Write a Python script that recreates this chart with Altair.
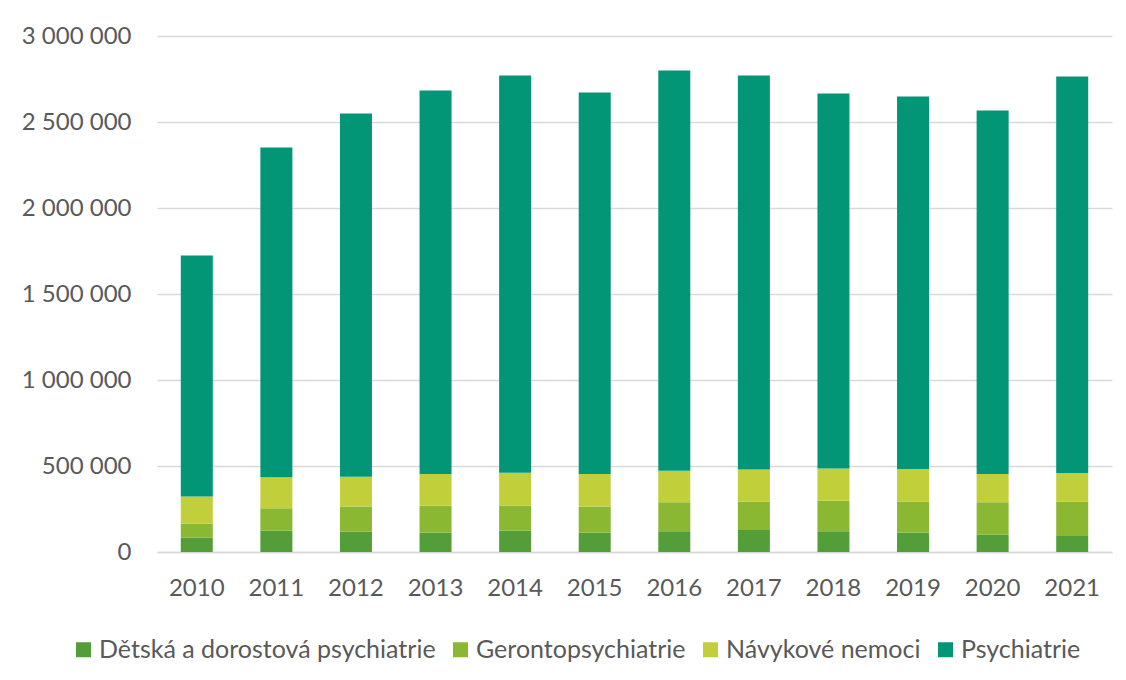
import altair as alt
import pandas as pd

years = [str(y) for y in range(2010, 2022)]
series = ["Dětská a dorostová psychiatrie", "Gerontopsychiatrie", "Návykové nemoci", "Psychiatrie"]
colors = ["#549E39", "#8AB833", "#C0CF3A", "#029676"]

detska = [85000, 124000, 118000, 114000, 124000, 114000, 120000, 128000, 120000, 114000, 102000, 97000]
geronto = [80000, 130000, 146000, 155000, 147000, 151000, 169000, 166000, 178000, 180000, 187000, 197000]
navykove = [157000, 180000, 174000, 185000, 190000, 189000, 184000, 185000, 187000, 189000, 165000, 166000]
psychiatrie = [1402000, 1918000, 2112000, 2229000, 2310000, 2218000, 2327000, 2292000, 2181000, 2165000, 2113000, 2305000]

rows = []
for i, y in enumerate(years):
    for k, vals in enumerate([detska, geronto, navykove, psychiatrie]):
        rows.append({"rok": y, "skupina": series[k], "idx": k, "hodnota": vals[i]})
df = pd.DataFrame(rows)

FONT = "Lato"
TXT = "#595959"

chart = alt.Chart(df).mark_bar(size=32).encode(
    x=alt.X("rok:N", title=None, scale=alt.Scale(paddingInner=0.6, paddingOuter=0.3),
            axis=alt.Axis(labelAngle=0, ticks=False, domain=True, domainColor="#D9D9D9",
                          domainWidth=1.5, labelPadding=24, labelFontSize=24,
                          labelColor=TXT, labelFont=FONT, grid=False)),
    y=alt.Y("hodnota:Q", title=None, stack="zero",
            scale=alt.Scale(domain=[0, 3000000], nice=False),
            axis=alt.Axis(values=[0, 500000, 1000000, 1500000, 2000000, 2500000, 3000000],
                          labelExpr="replace(format(datum.value, ','), regexp(',', 'g'), ' ')",
                          ticks=False, domain=False, grid=True, gridColor="#D9D9D9",
                          gridWidth=1.5, labelPadding=26, labelFontSize=24,
                          labelColor=TXT, labelFont=FONT)),
    color=alt.Color("skupina:N", sort=series,
                    scale=alt.Scale(domain=series, range=colors),
                    legend=alt.Legend(title=None, orient="none", direction="horizontal",
                                      legendX=-86, legendY=601, symbolType="square",
                                      symbolSize=225, symbolStrokeWidth=0,
                                      labelFontSize=25, labelFont=FONT, labelColor=TXT,
                                      labelOffset=3, columnPadding=12, labelLimit=500)),
    order=alt.Order("idx:Q", sort="ascending"),
).properties(
    width=955, height=516,
    autosize=alt.AutoSizeParams(type="none"),
    padding={"left": 149, "top": 28, "right": 6, "bottom": 120},
).configure_view(stroke=None)

chart.save("out.html", embed_options={"renderer": "svg", "actions": False})
